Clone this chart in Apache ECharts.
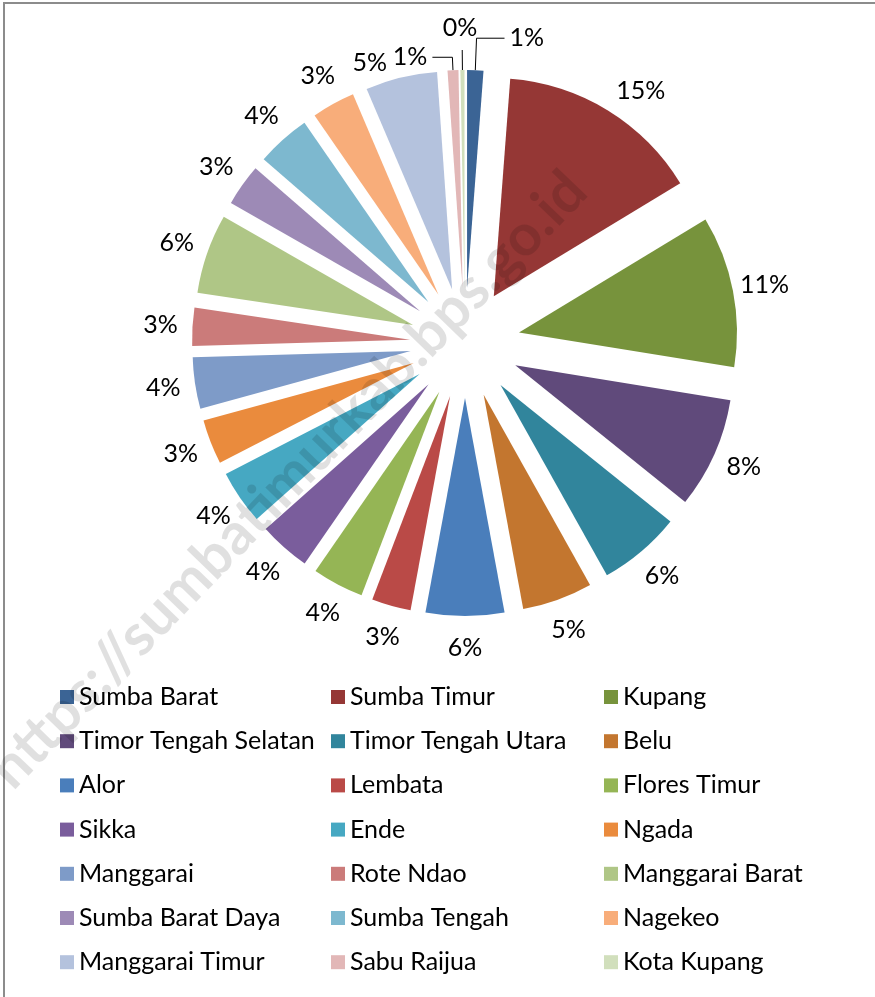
<!DOCTYPE html>
<html>
<head>
<meta charset="utf-8">
<script src="https://cdn.jsdelivr.net/npm/echarts@6/dist/echarts.min.js"></script>
<style>
  html, body { margin: 0; padding: 0; background: #fff; }
  #chart { width: 875px; height: 997px; }
</style>
</head>
<body>
<div id="chart"></div>
<script>
// ---- data ----
const categories = [
  'Sumba Barat', 'Sumba Timur', 'Kupang', 'Timor Tengah Selatan', 'Timor Tengah Utara', 'Belu',
  'Alor', 'Lembata', 'Flores Timur', 'Sikka', 'Ende', 'Ngada',
  'Manggarai', 'Rote Ndao', 'Manggarai Barat', 'Sumba Barat Daya', 'Sumba Tengah', 'Nagekeo',
  'Manggarai Timur', 'Sabu Raijua', 'Kota Kupang'
];
const values = [
  1.2, 15.1, 11.2, 8.2, 6.1, 5.2,
  5.8, 2.9, 3.8, 3.8, 4.0, 3.3,
  3.8, 2.8, 5.9, 3.1, 4.0, 3.2,
  5.3, 0.8, 0.3
];
const colors = [
  '#3B6495', '#953735', '#77933C', '#604A7B', '#31859C', '#C3762F',
  '#4A7EBB', '#BA4A47', '#95B555', '#7A5D9C', '#46A8C2', '#EA8B3D',
  '#7E9BC8', '#CB7B7A', '#AFC686', '#9D8AB6', '#7DB8CF', '#F8AD7A',
  '#B4C2DD', '#E2B7B7', '#D1DFBC'
];
// labels drawn with leader lines: [length, length2]
const leaderLines = { 'Sumba Barat': [32, 28], 'Sabu Raijua': [13, 20], 'Kota Kupang': [20, 0] };
// small label nudges (label styling only)
const labelNudges = { 'Kota Kupang': [-2, -10], 'Sumba Timur': [16, 8], 'Manggarai Timur': [-24, 16] };
const FONT = 'Lato';
const FS = 25;

const total = values.reduce((a, b) => a + b, 0);
const pctText = v => Math.round(v / total * 100) + '%';

const center = [465, 343];

const mainData = categories.map((name, i) => {
  const item = { name, value: values[i], selected: true, itemStyle: { color: colors[i] } };
  const ll = leaderLines[name];
  if (ll) {
    item.label = {
      show: true, position: 'outside',
      color: name === 'Kota Kupang' ? 'rgba(0,0,0,0)' : '#000'
    };
    item.labelLine = { show: true, length: ll[0], length2: ll[1], lineStyle: { color: '#000', width: 1 } };
  }
  return item;
});

const labelData = categories.map((name, i) => {
  const item = { name, value: values[i] };
  if (leaderLines[name] && name !== 'Kota Kupang') {
    item.label = { show: false };
  } else if (labelNudges[name]) {
    item.label = { show: true, offset: labelNudges[name] };
  }
  return item;
});

function legendCol(col) {
  return categories.filter((_, i) => i % 3 === col);
}
const legendLefts = [60, 331, 604];

const chart = echarts.init(document.getElementById('chart'), null, { renderer: 'canvas' });
chart.setOption({
  backgroundColor: '#fff',
  animation: false,
  legend: legendLefts.map((left, c) => ({
    orient: 'vertical',
    left: left,
    top: 682,
    padding: 0,
    icon: 'rect',
    itemWidth: 14,
    itemHeight: 14,
    itemGap: 14.2,
    selectedMode: false,
    textStyle: { fontFamily: FONT, fontSize: FS, color: '#000', lineHeight: 30 },
    data: legendCol(c)
  })),
  series: [
    {
      type: 'pie',
      center: center,
      radius: [0, 218],
      startAngle: 90,
      clockwise: true,
      selectedMode: 'multiple',
      selectedOffset: 55,
      avoidLabelOverlap: false,
      emphasis: { disabled: true },
      select: { itemStyle: { borderWidth: 0 } },
      itemStyle: { borderWidth: 0 },
      label: {
        show: false,
        fontFamily: FONT, fontSize: FS, color: '#000',
        formatter: p => pctText(p.value)
      },
      labelLine: { show: false, smooth: false },
      data: mainData
    },
    {
      type: 'pie',
      center: center,
      radius: [267, 337],
      startAngle: 90,
      clockwise: true,
      silent: true,
      avoidLabelOverlap: false,
      itemStyle: { color: 'rgba(0,0,0,0)' },
      label: {
        show: true,
        position: 'inside',
        fontFamily: FONT, fontSize: FS, color: '#000',
        formatter: p => pctText(p.value)
      },
      labelLine: { show: false },
      data: labelData
    }
  ],
  graphic: [
    {
      type: 'rect',
      shape: { x: 4, y: 3, width: 900, height: 1100 },
      style: { fill: 'none', stroke: '#8c8c8c', lineWidth: 2 },
      silent: true,
      z: 100
    },
    {
      type: 'text',
      x: 288, y: 480,
      rotation: 46 * Math.PI / 180,
      style: {
        text: 'https://sumbatimurkab.bps.go.id',
        font: 'bold 58px Lato',
        fill: 'rgba(0,0,0,0.12)',
        align: 'center',
        verticalAlign: 'middle'
      },
      silent: true,
      z: 100
    }
  ]
});
</script>
</body>
</html>
